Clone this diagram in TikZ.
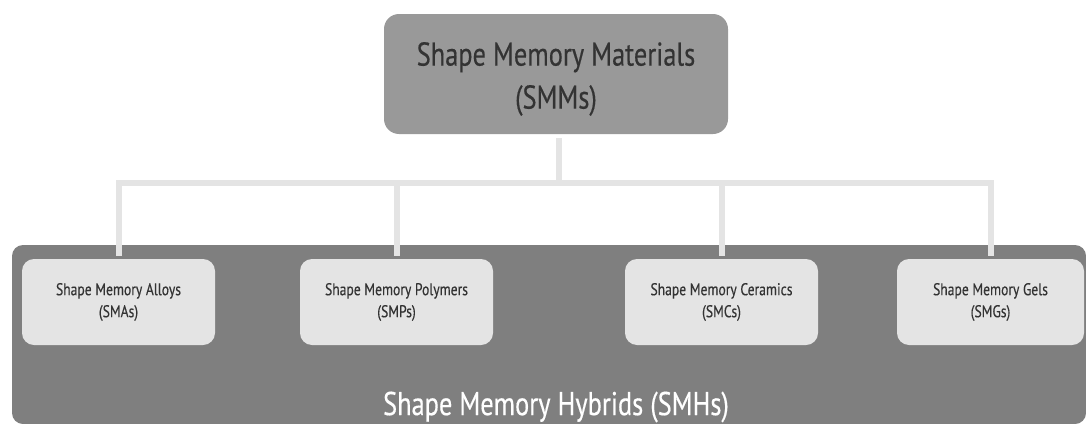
\documentclass[tikz,border=0pt]{standalone}
\usepackage{fontspec}
\setmainfont{PT Sans}[FakeStretch=0.8, FakeBold=0.35]
\definecolor{smmgray}{HTML}{999999}
\definecolor{smhgray}{HTML}{7F7F7F}
\definecolor{boxgray}{HTML}{E4E4E4}
\definecolor{textgray}{HTML}{333333}
\tikzset{
  smmbox/.style={fill=smmgray, rounded corners=15pt, minimum width=344pt, minimum height=120pt},
  smmtext/.style={align=center, text=textgray, font=\fontsize{33}{43}\selectfont},
  kindbox/.style={fill=boxgray, rounded corners=12pt, minimum width=193pt, minimum height=86pt,
    align=center, text=textgray, font=\fontsize{17}{22}\selectfont},
  link/.style={draw=boxgray, line width=6pt}
}
\begin{document}
\begin{tikzpicture}[x=1pt,y=-1pt]
\useasboundingbox (0,0) rectangle (1086,423);
\clip (0,0) rectangle (1086,423);
% hybrids container
\fill[smhgray, rounded corners=11pt] (12,245) rectangle (1086,424);
\node[text=white, font=\fontsize{33}{40}\selectfont] (smh) at (556,407) {Shape Memory Hybrids (SMHs)};
% top node
\node[smmbox] (smm) at (556,74) {};
\node[smmtext] (smmlabel) at ([yshift=-5pt]smm.center) {Shape Memory Materials\\(SMMs)};
% kinds
\node[kindbox] (sma) at (118.5,302) {Shape Memory Alloys\\(SMAs)};
\node[kindbox] (smp) at (396.5,302) {Shape Memory Polymers\\(SMPs)};
\node[kindbox] (smc) at (721.5,302) {Shape Memory Ceramics\\(SMCs)};
\node[kindbox, minimum width=187pt] (smg) at (990.5,302) {Shape Memory Gels\\(SMGs)};
% tree
\coordinate (bus) at (559,183);
\draw[link, shorten <=4pt] (smm.south -| bus) -- (bus);
\draw[link, shorten >=3pt] (bus) -| (sma.north);
\draw[link, shorten >=3pt] (bus) -| (smp.north);
\draw[link, shorten >=3pt] (bus) -| (smc.north);
\draw[link, shorten >=3pt] (bus) -| (smg.north);
\end{tikzpicture}
\end{document}
